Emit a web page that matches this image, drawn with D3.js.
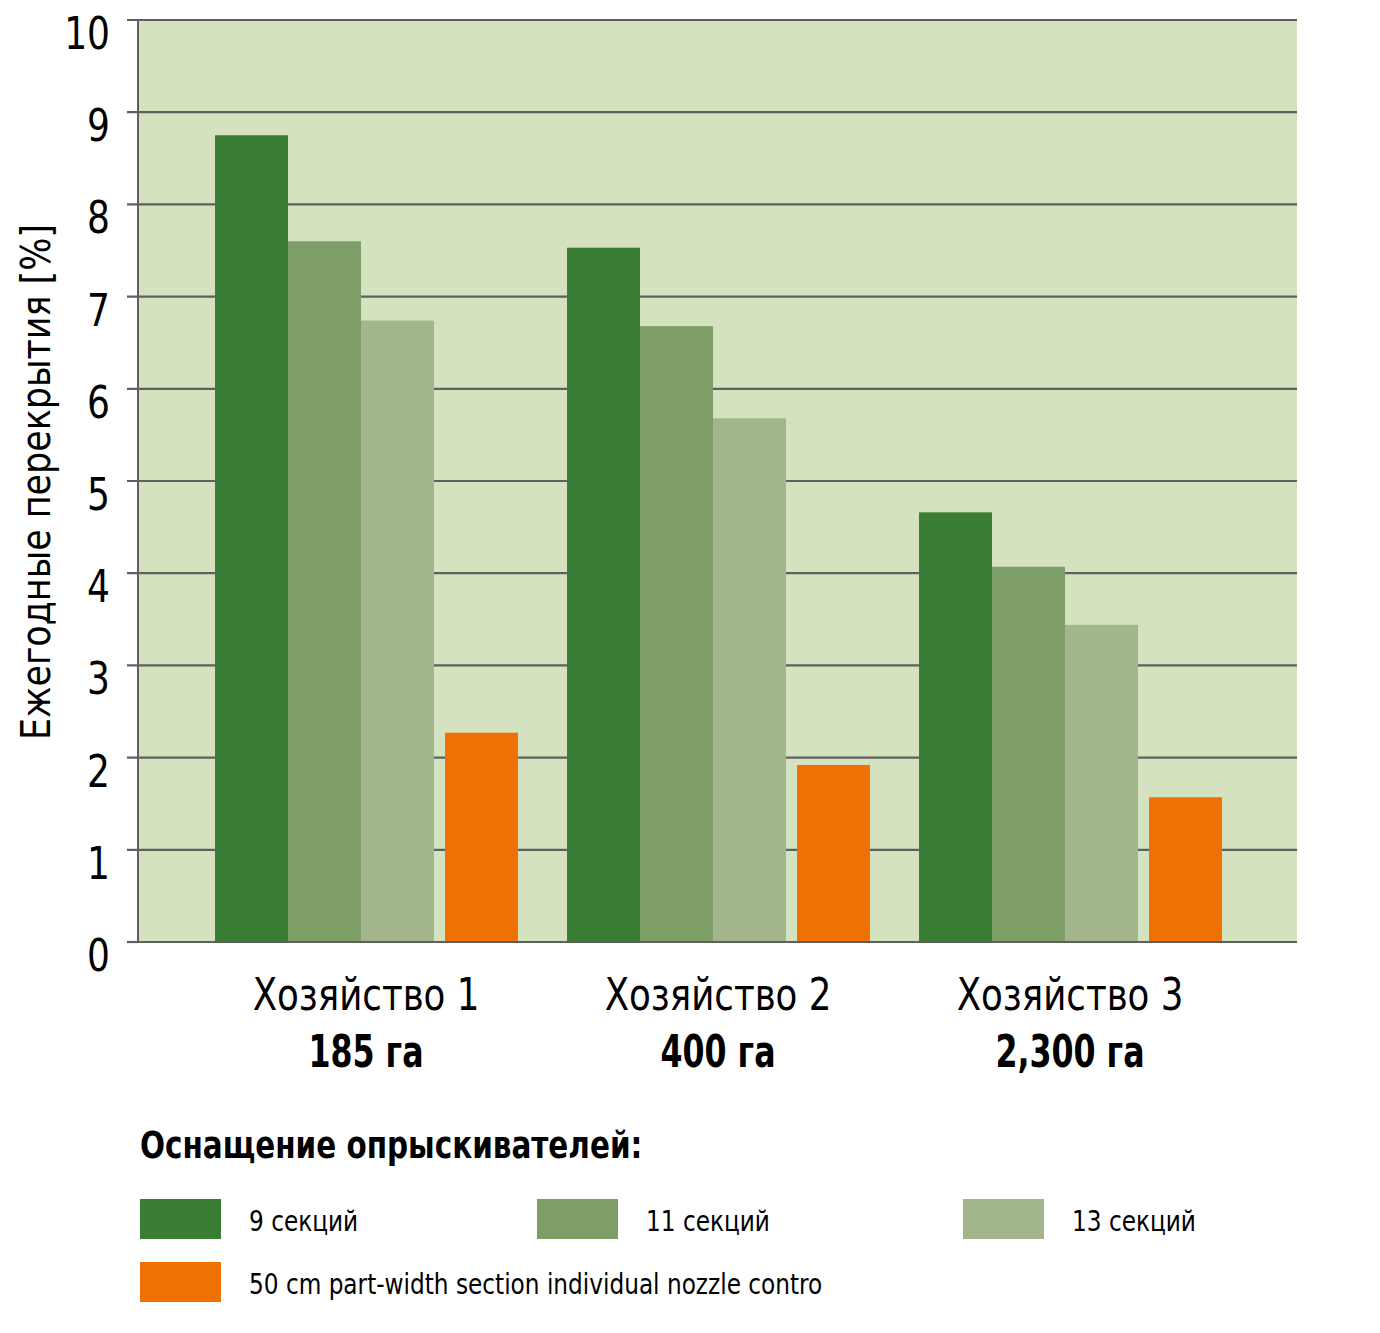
<!DOCTYPE html>
<html><head><meta charset="utf-8">
<script src="https://cdn.jsdelivr.net/npm/d3@7"></script>
<style>
html,body{margin:0;padding:0;background:#fff;}
text{font-family:"DejaVu Sans Condensed","DejaVu Sans",sans-serif;fill:#000;}
</style></head>
<body><svg id="chart" width="1380" height="1333"></svg>
<script>
const farms = ["Хозяйство 1","Хозяйство 2","Хозяйство 3"];
const farmAreas = ["185 га","400 га","2,300 га"];
const series = ["9 секций","11 секций","13 секций","50 cm part-width section individual nozzle contro"];
const seriesColors = ["#3a7d35","#7d9e66","#a3b68b","#ee7203"];
const values9 = [8.75, 7.53, 4.66];
const values11 = [7.60, 6.68, 4.07];
const values13 = [6.74, 5.68, 3.44];
const valuesNozzle = [2.27, 1.92, 1.57];
const yTicks = [0,1,2,3,4,5,6,7,8,9,10];
const legendTitle = "Оснащение опрыскивателей:";
const yTitle = "Ежегодные перекрытия [%]";

const allValues = [values9, values11, values13, valuesNozzle];
const svg = d3.select("#chart");
const L = 138, R = 1297, T = 20, B = 942;
const y = d3.scaleLinear().domain([0,10]).range([B,T]);
const x = d3.scaleBand().domain(farms).range([190,1246]).padding(0);
const barW = 73, orangeGap = 11, groupOff = 25;
const xi = d3.scaleBand().domain(series).range([0, 4*barW]);
const xOf = (s) => groupOff + xi(s) + (s === series[3] ? orangeGap : 0);

// squeezed text helper
function addText(parent, x, y, str, o) {
  const gg = parent.append("g").attr("transform", `translate(${x},${y})${o.rot?` rotate(${o.rot})`:""} scale(${o.sx||1},1)`);
  gg.append("text").attr("text-anchor", o.anchor||"start")
    .style("font-size", o.size+"px").style("font-weight", o.weight||"normal").text(str);
  return gg;
}

// background
svg.append("rect").attr("x",L).attr("y",T).attr("width",R-L).attr("height",B-T).attr("fill","#d5e2bf");

// gridlines + ticks
const g = svg.append("g");
g.selectAll("line.grid").data(yTicks.filter(d=>d>0)).join("line")
  .attr("x1",127).attr("x2",R).attr("y1",d=>y(d)).attr("y2",d=>y(d))
  .attr("stroke","#5f5f5f").attr("stroke-width",2.2);
g.append("line").attr("x1",127).attr("x2",L).attr("y1",y(0)).attr("y2",y(0)).attr("stroke","#5f5f5f").attr("stroke-width",2.2);

// bars
const rows = [];
farms.forEach((f,i)=>series.forEach((s,j)=>rows.push({f,s,j,v:allValues[j][i]})));
svg.append("g").selectAll("rect").data(rows).join("rect")
  .attr("x",d=>x(d.f)+xOf(d.s)).attr("width",barW)
  .attr("y",d=>y(d.v)).attr("height",d=>y(0)-y(d.v))
  .attr("fill",d=>seriesColors[d.j]);

// axes lines
svg.append("line").attr("x1",L).attr("x2",L).attr("y1",T-1).attr("y2",B+1).attr("stroke","#5f5f5f").attr("stroke-width",2);
svg.append("line").attr("x1",L).attr("x2",R).attr("y1",B).attr("y2",B).attr("stroke","#5f5f5f").attr("stroke-width",2.2);

// tick labels
const tl = svg.append("g");
yTicks.forEach(d => addText(tl, 110, y(d)+29, d, {size:44, anchor:"end", sx:0.91}));

// y title
addText(svg, 50, 482, yTitle, {size:40, anchor:"middle", rot:-90, sx:0.97});

// category labels
farms.forEach((f,i) => {
  const cx = x(f)+x.bandwidth()/2;
  addText(svg, cx, 1010, f, {size:44, anchor:"middle", sx:0.9});
  addText(svg, cx, 1067, farmAreas[i], {size:44, anchor:"middle", weight:"bold", sx:0.8});
});

// legend
addText(svg, 140, 1158, legendTitle, {size:37, weight:"bold", sx:0.885});
const legPos = [[140,1199],[537,1199],[963,1199],[140,1262]];
series.forEach((s,i) => {
  const lg = svg.append("g").attr("transform",`translate(${legPos[i][0]},${legPos[i][1]})`);
  lg.append("rect").attr("width",81).attr("height",40).attr("fill",seriesColors[i]);
  addText(lg, 109, 32, s, {size:29, sx:0.89});
});
</script></body></html>
